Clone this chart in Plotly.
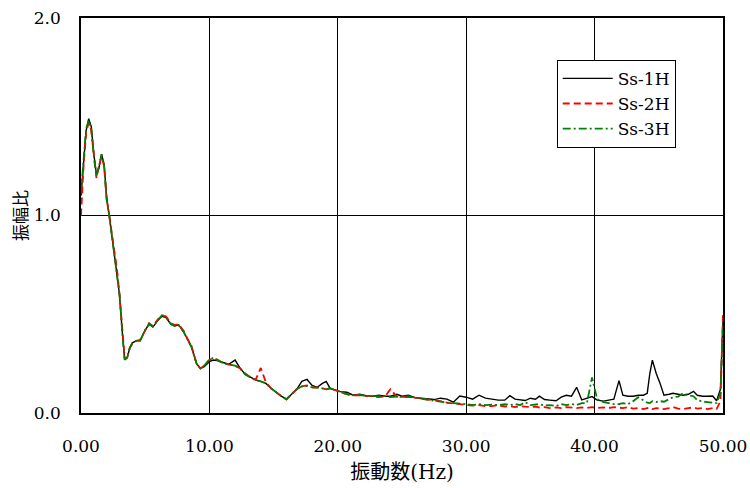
import plotly.graph_objects as go

# Frequency axis (Hz), shared by all three records
freq_hz = [
    0.0, 0.2, 0.4, 0.6, 0.8, 1.0, 1.2, 1.4, 1.6, 1.8,
    2.0, 2.2, 2.4, 2.6, 2.8, 3.0, 3.2, 3.4, 3.6, 3.8,
    4.0, 4.3, 4.6, 5.0, 5.3, 5.6, 6.0, 6.3, 6.6, 7.0,
    7.3, 7.6, 8.0, 8.3, 8.6, 9.0, 9.3, 9.6, 10.0, 10.3,
    10.6, 11.0, 11.5, 12.0, 12.4, 12.8, 13.2, 13.6, 14.0, 14.4,
    14.8, 15.2, 15.6, 16.0, 16.4, 16.8, 17.2, 17.6, 18.0, 18.4,
    18.8, 19.1, 19.4, 19.8, 20.2, 20.7, 21.2, 21.7, 22.2, 22.7,
    23.2, 23.7, 24.1, 24.6, 25.0, 25.5, 26.0, 26.5, 27.0, 27.5,
    28.0, 28.5, 29.0, 29.5, 30.0, 30.5, 31.0, 31.5, 32.0, 32.5,
    33.0, 33.4, 33.8, 34.2, 34.6, 35.0, 35.4, 35.7, 36.1, 36.5,
    37.0, 37.4, 37.8, 38.2, 38.6, 39.0, 39.4, 39.8, 40.2, 40.7,
    41.1, 41.5, 41.9, 42.2, 42.6, 43.0, 43.4, 43.8, 44.1, 44.3,
    44.5, 44.8, 45.1, 45.4, 45.8, 46.1, 46.5, 46.9, 47.3, 47.7,
    48.0, 48.4, 48.8, 49.2, 49.5, 49.8, 50.0,
]

# Amplitude ratio, Ss-1H
ss1h = [
    1.10, 1.28, 1.43, 1.49, 1.45, 1.31, 1.21, 1.24, 1.31, 1.26,
    1.09, 1.00, 0.90, 0.82, 0.72, 0.60, 0.42, 0.27, 0.28, 0.33,
    0.355, 0.365, 0.365, 0.42, 0.45, 0.435, 0.47, 0.49, 0.485, 0.45,
    0.44, 0.447, 0.41, 0.37, 0.335, 0.25, 0.226, 0.235, 0.26, 0.268,
    0.265, 0.257, 0.247, 0.268, 0.226, 0.195, 0.18, 0.168, 0.16, 0.15,
    0.125, 0.105, 0.085, 0.07, 0.095, 0.12, 0.16, 0.17, 0.14, 0.13,
    0.15, 0.16, 0.125, 0.115, 0.108, 0.105, 0.09, 0.095, 0.088, 0.085,
    0.09, 0.085, 0.085, 0.095, 0.085, 0.09, 0.078, 0.075, 0.07, 0.068,
    0.075, 0.07, 0.055, 0.086, 0.08, 0.07, 0.09, 0.075, 0.07, 0.065,
    0.065, 0.088, 0.07, 0.066, 0.063, 0.075, 0.07, 0.085, 0.068, 0.065,
    0.062, 0.08, 0.09, 0.085, 0.13, 0.066, 0.075, 0.083, 0.065, 0.06,
    0.065, 0.07, 0.164, 0.09, 0.085, 0.085, 0.09, 0.09, 0.10, 0.20,
    0.268, 0.20, 0.15, 0.09, 0.095, 0.10, 0.095, 0.09, 0.095, 0.11,
    0.09, 0.085, 0.085, 0.086, 0.062, 0.12, 0.47,
]

# Amplitude ratio, Ss-2H
ss2h = [
    1.00, 1.25, 1.42, 1.47, 1.43, 1.29, 1.19, 1.25, 1.30, 1.25,
    1.08, 1.00, 0.91, 0.83, 0.73, 0.60, 0.43, 0.28, 0.28, 0.33,
    0.35, 0.365, 0.37, 0.42, 0.455, 0.44, 0.475, 0.49, 0.49, 0.455,
    0.445, 0.45, 0.415, 0.375, 0.34, 0.25, 0.225, 0.24, 0.27, 0.275,
    0.27, 0.255, 0.245, 0.24, 0.225, 0.20, 0.18, 0.168, 0.228, 0.155,
    0.125, 0.105, 0.085, 0.068, 0.095, 0.12, 0.135, 0.14, 0.13, 0.13,
    0.125, 0.12, 0.125, 0.115, 0.105, 0.095, 0.09, 0.09, 0.085, 0.085,
    0.08, 0.085, 0.12, 0.083, 0.08, 0.085, 0.078, 0.075, 0.068, 0.065,
    0.06, 0.052, 0.05, 0.045, 0.04, 0.038, 0.04, 0.035, 0.035, 0.04,
    0.033, 0.035, 0.03, 0.035, 0.032, 0.03, 0.032, 0.028, 0.03, 0.025,
    0.028, 0.025, 0.03, 0.027, 0.025, 0.028, 0.025, 0.03, 0.025, 0.028,
    0.025, 0.03, 0.025, 0.025, 0.03, 0.022, 0.025, 0.02, 0.025, 0.028,
    0.02, 0.025, 0.022, 0.02, 0.025, 0.03, 0.022, 0.02, 0.025, 0.028,
    0.022, 0.025, 0.02, 0.025, 0.02, 0.06, 0.50,
]

# Amplitude ratio, Ss-3H
ss3h = [
    1.12, 1.27, 1.44, 1.48, 1.44, 1.30, 1.20, 1.25, 1.31, 1.25,
    1.08, 1.00, 0.90, 0.82, 0.72, 0.60, 0.42, 0.27, 0.28, 0.33,
    0.355, 0.365, 0.365, 0.42, 0.45, 0.44, 0.47, 0.495, 0.49, 0.45,
    0.44, 0.445, 0.41, 0.37, 0.335, 0.25, 0.226, 0.24, 0.27, 0.28,
    0.268, 0.255, 0.245, 0.24, 0.225, 0.195, 0.18, 0.165, 0.16, 0.15,
    0.125, 0.105, 0.085, 0.07, 0.095, 0.12, 0.135, 0.137, 0.13, 0.128,
    0.125, 0.12, 0.125, 0.115, 0.105, 0.095, 0.09, 0.092, 0.085, 0.085,
    0.082, 0.085, 0.08, 0.083, 0.08, 0.082, 0.078, 0.072, 0.066, 0.062,
    0.058, 0.052, 0.05, 0.048, 0.045, 0.04, 0.045, 0.04, 0.042, 0.04,
    0.045, 0.04, 0.045, 0.04, 0.055, 0.04, 0.042, 0.045, 0.038, 0.04,
    0.035, 0.045, 0.04, 0.045, 0.04, 0.05, 0.05, 0.18, 0.07, 0.055,
    0.05, 0.045, 0.045, 0.05, 0.045, 0.06, 0.08, 0.065, 0.052, 0.05,
    0.06, 0.055, 0.06, 0.057, 0.07, 0.08, 0.083, 0.10, 0.09, 0.085,
    0.065, 0.058, 0.055, 0.052, 0.05, 0.10, 0.45,
]

x_ticks = [0, 10, 20, 30, 40, 50]
y_ticks = [0.0, 1.0, 2.0]

SERIF = "DejaVu Serif, Liberation Serif, serif"
CJK = "Noto Sans CJK JP, sans-serif"

fig = go.Figure()
fig.add_trace(go.Scatter(x=freq_hz, y=ss1h, name="Ss-1H", mode="lines",
                         line=dict(color="black", width=1.4)))
fig.add_trace(go.Scatter(x=freq_hz, y=ss2h, name="Ss-2H", mode="lines",
                         line=dict(color="#ff0000", width=1.8, dash="7px,4px")))
fig.add_trace(go.Scatter(x=freq_hz, y=ss3h, name="Ss-3H", mode="lines",
                         line=dict(color="#008000", width=1.8, dash="8px,3px,2px,3px")))

fig.update_layout(
    width=750, height=488,
    margin=dict(l=81, r=27, t=18, b=75),
    paper_bgcolor="white", plot_bgcolor="white",
    showlegend=True,
    legend=dict(
        x=0.741, y=0.894, xanchor="left", yanchor="top",
        bgcolor="white", bordercolor="black", borderwidth=1,
        font=dict(family=SERIF, size=17, color="black"),
        tracegroupgap=0, itemwidth=50,
    ),
    xaxis=dict(
        range=[0, 50], tickvals=x_ticks,
        ticktext=[f"{v:.2f}" for v in x_ticks],
        showgrid=True, gridcolor="black", gridwidth=1,
        showline=True, linecolor="black", linewidth=1.5, mirror=True,
        ticks="", ticklabelstandoff=17, zeroline=False, automargin=False,
        tickfont=dict(family=SERIF, size=17, color="black"),
        title=dict(
            text='振動数<span style="font-family:DejaVu Serif">(Hz)</span>',
            font=dict(family=CJK, size=20, color="black"), standoff=9),
    ),
    yaxis=dict(
        range=[0, 2.0], tickvals=y_ticks,
        ticktext=[f"{v:.1f}" for v in y_ticks],
        showgrid=True, gridcolor="black", gridwidth=1,
        showline=True, linecolor="black", linewidth=1.5, mirror=True,
        ticks="", ticklabelstandoff=15, zeroline=False, automargin=False,
        tickfont=dict(family=SERIF, size=17, color="black"),
        title=dict(text="振幅比", font=dict(family=CJK, size=17, color="black"), standoff=2),
    ),
)

fig.write_html("out.html")
